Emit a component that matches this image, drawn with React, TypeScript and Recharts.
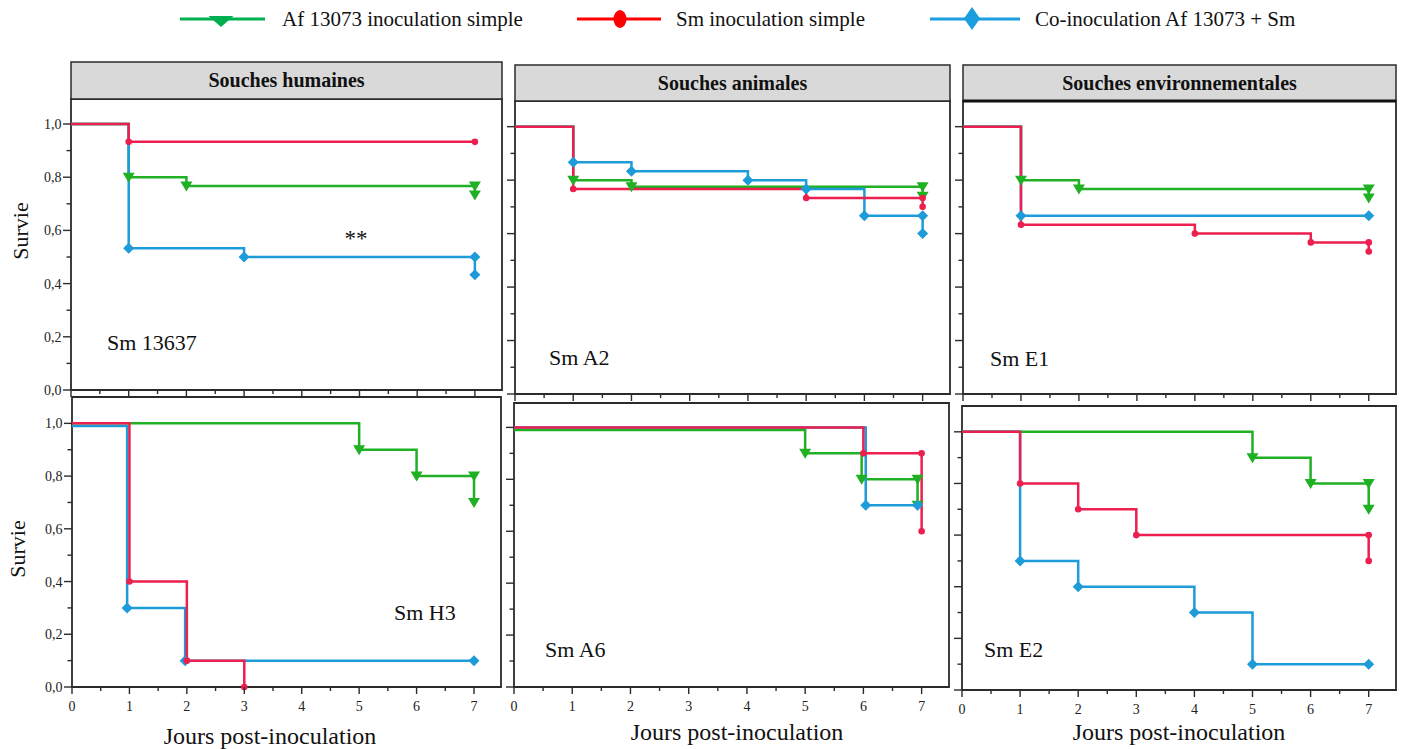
import React from "react";
import { LineChart, Line, XAxis, YAxis, ReferenceArea } from "recharts";

type Pt = { day: number; surv: number };

// Souches humaines — Sm 13637
const h13637Af: Pt[] = [{ day: 0, surv: 1 }, { day: 1, surv: 0.8 }, { day: 2, surv: 0.767 }, { day: 7, surv: 0.767 }, { day: 7, surv: 0.733 }];
const h13637Sm: Pt[] = [{ day: 0, surv: 1 }, { day: 1, surv: 0.933 }, { day: 7, surv: 0.933 }];
const h13637Co: Pt[] = [{ day: 0, surv: 1 }, { day: 1, surv: 0.533 }, { day: 3, surv: 0.5 }, { day: 7, surv: 0.5 }, { day: 7, surv: 0.433 }];

// Souches animales — Sm A2
const a2Af: Pt[] = [{ day: 0, surv: 1 }, { day: 1, surv: 0.8 }, { day: 2, surv: 0.775 }, { day: 7, surv: 0.775 }, { day: 7, surv: 0.74 }];
const a2Sm: Pt[] = [{ day: 0, surv: 1 }, { day: 1, surv: 0.767 }, { day: 5, surv: 0.733 }, { day: 7, surv: 0.733 }, { day: 7, surv: 0.7 }];
const a2Co: Pt[] = [{ day: 0, surv: 1 }, { day: 1, surv: 0.867 }, { day: 2, surv: 0.833 }, { day: 4, surv: 0.8 }, { day: 5, surv: 0.767 }, { day: 6, surv: 0.667 }, { day: 7, surv: 0.667 }, { day: 7, surv: 0.6 }];

// Souches environnementales — Sm E1
const e1Af: Pt[] = [{ day: 0, surv: 1 }, { day: 1, surv: 0.8 }, { day: 2, surv: 0.767 }, { day: 7, surv: 0.767 }, { day: 7, surv: 0.733 }];
const e1Sm: Pt[] = [{ day: 0, surv: 1 }, { day: 1, surv: 0.633 }, { day: 4, surv: 0.6 }, { day: 6, surv: 0.567 }, { day: 7, surv: 0.567 }, { day: 7, surv: 0.533 }];
const e1Co: Pt[] = [{ day: 0, surv: 1 }, { day: 1, surv: 0.667 }, { day: 7, surv: 0.667 }];

// Sm H3
const h3Af: Pt[] = [{ day: 0, surv: 1 }, { day: 5, surv: 0.9 }, { day: 6, surv: 0.8 }, { day: 7, surv: 0.8 }, { day: 7, surv: 0.7 }];
const h3Sm: Pt[] = [{ day: 0, surv: 1 }, { day: 1, surv: 0.4 }, { day: 2, surv: 0.1 }, { day: 3, surv: 0 }];
const h3Co: Pt[] = [{ day: 0, surv: 0.99 }, { day: 0.96, surv: 0.3 }, { day: 1.97, surv: 0.1 }, { day: 7, surv: 0.1 }];

// Sm A6
const a6Af: Pt[] = [{ day: 0, surv: 0.99 }, { day: 5, surv: 0.9 }, { day: 5.97, surv: 0.8 }, { day: 6.93, surv: 0.8 }, { day: 6.93, surv: 0.7 }];
const a6Sm: Pt[] = [{ day: 0, surv: 1 }, { day: 6, surv: 0.9 }, { day: 7, surv: 0.9 }, { day: 7, surv: 0.6 }];
const a6Co: Pt[] = [{ day: 0, surv: 1 }, { day: 6.04, surv: 0.7 }, { day: 6.93, surv: 0.7 }];

// Sm E2
const e2Af: Pt[] = [{ day: 0, surv: 1 }, { day: 5, surv: 0.9 }, { day: 6, surv: 0.8 }, { day: 7, surv: 0.8 }, { day: 7, surv: 0.7 }];
const e2Sm: Pt[] = [{ day: 0, surv: 1 }, { day: 1, surv: 0.8 }, { day: 2, surv: 0.7 }, { day: 3, surv: 0.6 }, { day: 7, surv: 0.6 }, { day: 7, surv: 0.5 }];
const e2Co: Pt[] = [{ day: 0, surv: 1 }, { day: 1, surv: 0.5 }, { day: 2, surv: 0.4 }, { day: 4, surv: 0.3 }, { day: 5, surv: 0.1 }, { day: 7, surv: 0.1 }];

const X_TICKS = [0, 0.5, 1, 1.5, 2, 2.5, 3, 3.5, 4, 4.5, 5, 5.5, 6, 6.5, 7];
const Y_TICKS = [0, 0.1, 0.2, 0.3, 0.4, 0.5, 0.6, 0.7, 0.8, 0.9, 1];
const X_MAX = 7.47;

const GREEN = "#1fb024";
const RED = "#ec1f4e";
const BLUE = "#1e9bd9";
const INK = "#2b2b2b";
const FONT = '"Liberation Serif", "Times New Roman", serif';

const triDot = (p: any) => {
  if (p.index === 0) return <g key={`t${p.index}`} />;
  const { cx, cy } = p;
  return <path key={`t${p.index}`} d={`M${cx - 6},${cy - 4.5}L${cx + 6},${cy - 4.5}L${cx},${cy + 5.5}Z`} fill={GREEN} />;
};
const roundDot = (p: any) => {
  if (p.index === 0) return <g key={`c${p.index}`} />;
  return <circle key={`c${p.index}`} cx={p.cx} cy={p.cy} r={3.3} fill={RED} />;
};
const diamondDot = (p: any) => {
  if (p.index === 0) return <g key={`d${p.index}`} />;
  const { cx, cy } = p;
  return <path key={`d${p.index}`} d={`M${cx},${cy - 5.5}L${cx + 5.5},${cy}L${cx},${cy + 5.5}L${cx - 5.5},${cy}Z`} fill={BLUE} />;
};

function XTick(props: any) {
  const { x, y, payload, showLabel } = props;
  const v = payload.value;
  const major = Number.isInteger(v);
  return (
    <g>
      <line x1={x} y1={y} x2={x} y2={y + (major ? 7 : 4)} stroke={INK} strokeWidth={1.4} />
      {showLabel && major && (
        <text x={x} y={y + 24} textAnchor="middle" fontSize={14} fontFamily={FONT} fill="#222">
          {v}
        </text>
      )}
    </g>
  );
}

function YTick(props: any) {
  const { x, y, payload, showLabel } = props;
  const v = payload.value;
  const major = Math.round(v * 10) % 2 === 0;
  return (
    <g>
      <line x1={x - (major ? 8 : 4.5)} y1={y} x2={x} y2={y} stroke={INK} strokeWidth={1.4} />
      {showLabel && major && (
        <text x={x - 9.5} y={y + 5} textAnchor="end" fontSize={14} fontFamily={FONT} fill="#222">
          {v.toFixed(1).replace(".", ",")}
        </text>
      )}
    </g>
  );
}

type PanelProps = {
  left: number; top: number; w: number; h: number; yMax: number;
  af: Pt[]; sm: Pt[]; co: Pt[]; yLabels: boolean; xLabels: boolean;
};

function Panel({ left, top, w, h, yMax, af, sm, co, yLabels, xLabels }: PanelProps) {
  const YW = 60, XH = 34, PAD = 6;
  return (
    <div style={{ position: "absolute", left: left - YW, top: top - PAD }}>
      <LineChart width={w + YW + PAD} height={h + PAD + XH} margin={{ top: PAD, right: PAD, left: 0, bottom: 0 }}>
        <XAxis type="number" dataKey="day" domain={[0, X_MAX]} ticks={X_TICKS} interval={0} height={XH}
          axisLine={false} tickLine={false} tickSize={0} tickMargin={0}
          tick={(p: any) => <XTick {...p} showLabel={xLabels} />} />
        <YAxis type="number" domain={[0, yMax]} ticks={Y_TICKS} interval={0} width={YW}
          axisLine={false} tickLine={false} tickSize={0} tickMargin={0}
          tick={(p: any) => <YTick {...p} showLabel={yLabels} />} />
        <ReferenceArea x1={0} x2={X_MAX} y1={0} y2={yMax} fill="none" stroke={INK} strokeWidth={1.8} />
        <Line data={af} dataKey="surv" type="stepAfter" stroke={GREEN} strokeWidth={2.5} dot={false} isAnimationActive={false} />
        <Line data={co} dataKey="surv" type="stepAfter" stroke={BLUE} strokeWidth={2.5} dot={false} isAnimationActive={false} />
        <Line data={sm} dataKey="surv" type="stepAfter" stroke={RED} strokeWidth={2.5} dot={false} isAnimationActive={false} />
        <Line data={af} dataKey="surv" stroke="none" dot={triDot} isAnimationActive={false} />
        <Line data={co} dataKey="surv" stroke="none" dot={diamondDot} isAnimationActive={false} />
        <Line data={sm} dataKey="surv" stroke="none" dot={roundDot} isAnimationActive={false} />
      </LineChart>
    </div>
  );
}

export default function App() {
  const txt = { fontFamily: FONT, fill: "#111" };
  return (
    <div style={{ position: "absolute", left: 0, top: 0, width: 1405, height: 749, background: "#fff" }}>
      <Panel left={71} top={99} w={431} h={291} yMax={1.094} af={h13637Af} sm={h13637Sm} co={h13637Co} yLabels xLabels={false} />
      <Panel left={515} top={101} w={435} h={293} yMax={1.096} af={a2Af} sm={a2Sm} co={a2Co} yLabels={false} xLabels={false} />
      <Panel left={963} top={101} w={433} h={293} yMax={1.096} af={e1Af} sm={e1Sm} co={e1Co} yLabels={false} xLabels={false} />
      <Panel left={72} top={397} w={429} h={290} yMax={1.1} af={h3Af} sm={h3Sm} co={h3Co} yLabels xLabels />
      <Panel left={514} top={403} w={435} h={284} yMax={1.094} af={a6Af} sm={a6Sm} co={a6Co} yLabels={false} xLabels />
      <Panel left={962} top={406} w={434} h={284} yMax={1.1} af={e2Af} sm={e2Sm} co={e2Co} yLabels={false} xLabels />

      <svg width={1405} height={749} style={{ position: "absolute", left: 0, top: 0, pointerEvents: "none" }}>
        {/* legend */}
        <line x1={180} x2={265} y1={19} y2={19} stroke="#00b050" strokeWidth={3} />
        <path d="M208.5,16L233.5,16L221,27Z" fill="#00b050" />
        <text x={282} y={26} fontSize={21} {...txt}>Af 13073 inoculation simple</text>
        <line x1={577} x2={661} y1={19} y2={19} stroke="#ff0000" strokeWidth={3} />
        <ellipse cx={620} cy={19} rx={6.5} ry={9} fill="#ff0000" />
        <text x={676} y={26} fontSize={21} {...txt}>Sm inoculation simple</text>
        <line x1={930} x2={1020} y1={19} y2={19} stroke="#1a9ee0" strokeWidth={3} />
        <path d="M972,7L980,18.5L972,30L964,18.5Z" fill="#1a9ee0" />
        <text x={1035} y={26} fontSize={21} {...txt}>Co-inoculation Af 13073 + Sm</text>

        {/* headers */}
        <rect x={71} y={62} width={431} height={37} fill="#d9d9d9" stroke={INK} strokeWidth={1.5} />
        <text x={286.5} y={87} fontSize={20} fontWeight="bold" textAnchor="middle" {...txt}>Souches humaines</text>
        <rect x={515} y={65} width={435} height={36} fill="#d9d9d9" stroke={INK} strokeWidth={1.5} />
        <text x={732.5} y={90} fontSize={20} fontWeight="bold" textAnchor="middle" {...txt}>Souches animales</text>
        <rect x={963} y={65} width={433} height={36} fill="#d9d9d9" stroke={INK} strokeWidth={1.5} />
        <line x1={963} x2={1396} y1={101} y2={101} stroke="#111" strokeWidth={3} />
        <text x={1179.5} y={90} fontSize={20} fontWeight="bold" textAnchor="middle" {...txt}>Souches environnementales</text>

        {/* axis titles */}
        <text transform="translate(28,231) rotate(-90)" fontSize={22} textAnchor="middle" {...txt}>Survie</text>
        <text transform="translate(25,549) rotate(-90)" fontSize={22} textAnchor="middle" {...txt}>Survie</text>
        <text x={270} y={744} fontSize={24} textAnchor="middle" {...txt}>Jours post-inoculation</text>
        <text x={737} y={740} fontSize={24} textAnchor="middle" {...txt}>Jours post-inoculation</text>
        <text x={1179} y={740} fontSize={24} textAnchor="middle" {...txt}>Jours post-inoculation</text>

        {/* strain labels */}
        <text x={107} y={350} fontSize={22} {...txt}>Sm 13637</text>
        <text x={549} y={365} fontSize={22} {...txt}>Sm A2</text>
        <text x={990} y={366} fontSize={22} {...txt}>Sm E1</text>
        <text x={394} y={620} fontSize={22} {...txt}>Sm H3</text>
        <text x={545} y={657} fontSize={22} {...txt}>Sm A6</text>
        <text x={984} y={657} fontSize={22} {...txt}>Sm E2</text>
        <text x={356} y={246} fontSize={23} textAnchor="middle" {...txt}>**</text>
      </svg>
    </div>
  );
}
